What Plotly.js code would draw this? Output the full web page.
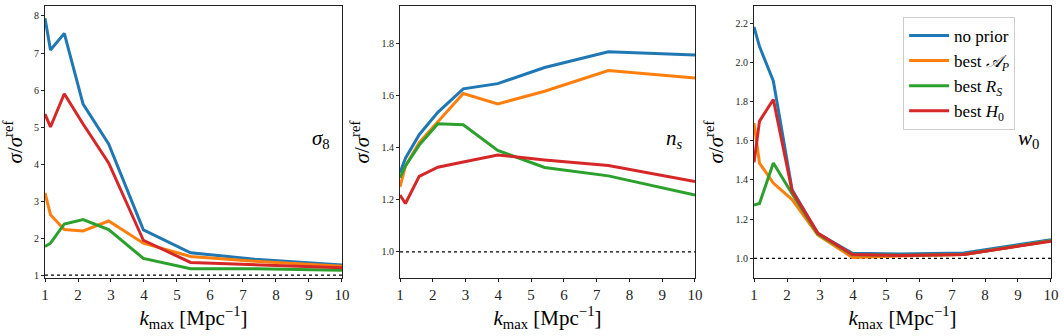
<!DOCTYPE html>
<html>
<head>
<meta charset="utf-8">
<script src="https://cdn.plot.ly/plotly-3.0.1.min.js"></script>
<style>html,body{margin:0;padding:0;background:#fff;}#chart{width:1064px;height:336px;}</style>
</head>
<body>
<div id="chart"></div>
<script>
// k_max values [Mpc^-1]
var kmax = [1.0, 1.166, 1.585, 2.154, 2.929, 3.981, 5.412, 7.356, 10.0];

var seriesNames = ["no prior", "best <i>𝒜</i><sub><i>P</i></sub>", "best <i>R</i><sub><i>S</i></sub>", "best <i>H</i><sub>0</sub>"];
var seriesColors = ["#1f77b4", "#ff7f0e", "#2ca02c", "#d62728"];

// sigma_8 panel
var s8_noprior = [7.94, 7.08, 7.53, 5.62, 4.54, 2.22, 1.60, 1.43, 1.27];
var s8_bestAP  = [3.22, 2.63, 2.23, 2.19, 2.46, 1.86, 1.50, 1.37, 1.24];
var s8_bestRS  = [1.77, 1.86, 2.38, 2.50, 2.23, 1.45, 1.17, 1.17, 1.13];
var s8_bestH0  = [5.35, 5.00, 5.90, 5.08, 4.03, 1.94, 1.34, 1.28, 1.20];

// n_s panel
var ns_noprior = [1.304, 1.36, 1.45, 1.536, 1.626, 1.646, 1.708, 1.768, 1.756];
var ns_bestAP  = [1.25, 1.33, 1.42, 1.500, 1.608, 1.568, 1.617, 1.696, 1.668];
var ns_bestRS  = [1.285, 1.33, 1.41, 1.492, 1.488, 1.390, 1.324, 1.292, 1.218];
var ns_bestH0  = [1.218, 1.186, 1.290, 1.325, 1.345, 1.372, 1.353, 1.332, 1.270];

// w_0 panel
var w0_noprior = [2.18, 2.08, 1.905, 1.35, 1.128, 1.026, 1.022, 1.028, 1.095];
var w0_bestAP  = [1.69, 1.486, 1.384, 1.300, 1.120, 1.005, 1.012, 1.020, 1.090];
var w0_bestRS  = [1.272, 1.28, 1.486, 1.330, 1.125, 1.018, 1.016, 1.020, 1.090];
var w0_bestH0  = [1.49, 1.70, 1.81, 1.343, 1.130, 1.020, 1.015, 1.020, 1.087];

var panelLabels = ["<i>σ</i><sub>8</sub>", "<i>n</i><sub><i>s</i></sub>", "<i>w</i><sub>0</sub>"];
var yRanges = [[0.92, 8.27], [0.9, 1.944], [0.9, 2.287]];
var yDticks = [1, 0.2, 0.2];
var refLevel = 1.0;

var panels = [
  [s8_noprior, s8_bestAP, s8_bestRS, s8_bestH0],
  [ns_noprior, ns_bestAP, ns_bestRS, ns_bestH0],
  [w0_noprior, w0_bestAP, w0_bestRS, w0_bestH0]
];

var serif = "Liberation Serif";
var traces = [];
var shapes = [];
var annotations = [];
var layout = {
  width: 1064, height: 336,
  margin: {l: 45, r: 13, t: 6, b: 58},
  paper_bgcolor: "#fff", plot_bgcolor: "#fff",
  font: {family: serif, color: "#000"},
  showlegend: true,
  legend: {
    x: 0.853, y: 0.96, xanchor: "left", yanchor: "top",
    bgcolor: "rgba(255,255,255,0.8)", bordercolor: "#cccccc", borderwidth: 1,
    font: {family: serif, size: 17, color: "#000"},
    itemwidth: 40, tracegroupgap: 0
  }
};

var domains = [[0, 0.2952], [0.3529, 0.6461], [0.7048, 1.0]];

panels.forEach(function (series, p) {
  var xa = p === 0 ? "x" : "x" + (p + 1);
  var ya = p === 0 ? "y" : "y" + (p + 1);
  series.forEach(function (vals, s) {
    traces.push({
      x: kmax, y: vals, xaxis: xa, yaxis: ya,
      type: "scatter", mode: "lines",
      name: seriesNames[s],
      line: {color: seriesColors[s], width: 3},
      showlegend: p === 2,
      hoverinfo: "skip"
    });
  });
  shapes.push({
    type: "line", xref: xa, yref: ya,
    x0: kmax[0], x1: kmax[kmax.length - 1], y0: refLevel, y1: refLevel,
    line: {color: "#000", width: 1.2, dash: "dot"}, layer: "below"
  });
  var axKey = p === 0 ? "xaxis" : "xaxis" + (p + 1);
  var ayKey = p === 0 ? "yaxis" : "yaxis" + (p + 1);
  layout[axKey] = {
    domain: domains[p], anchor: ya,
    range: [1, 10], dtick: 1, tick0: 1,
    showline: true, mirror: true, linecolor: "#222", linewidth: 1,
    ticks: "outside", ticklen: 3, tickcolor: "#222",
    showgrid: false, zeroline: false,
    tickfont: {family: serif, size: 15, color: "#222"},
    title: {text: "<i>k</i><sub>max</sub> [Mpc<sup>−1</sup>]", font: {family: serif, size: 21, color: "#000"}, standoff: 0}
  };
  layout[ayKey] = {
    domain: [0, 1], anchor: xa,
    range: yRanges[p], dtick: yDticks[p], tick0: 1,
    tickformat: p === 0 ? "d" : ".1f",
    showline: true, mirror: true, linecolor: "#222", linewidth: 1,
    ticks: "outside", ticklen: 3, tickcolor: "#222",
    showgrid: false, zeroline: false,
    tickfont: {family: serif, size: 10, color: "#222"},
    title: {text: "<i>σ</i>/<i>σ</i><sup>ref</sup>", font: {family: serif, size: 21, color: "#000"}, standoff: 6}
  };
  annotations.push({
    xref: xa + " domain", yref: ya + " domain",
    x: 0.965, y: 0.51, xanchor: "right", yanchor: "middle",
    text: panelLabels[p], showarrow: false,
    font: {family: serif, size: 21, color: "#000"}
  });
});

layout.shapes = shapes;
layout.annotations = annotations;

Plotly.newPlot("chart", traces, layout, {displayModeBar: false, staticPlot: true});
</script>
</body>
</html>
